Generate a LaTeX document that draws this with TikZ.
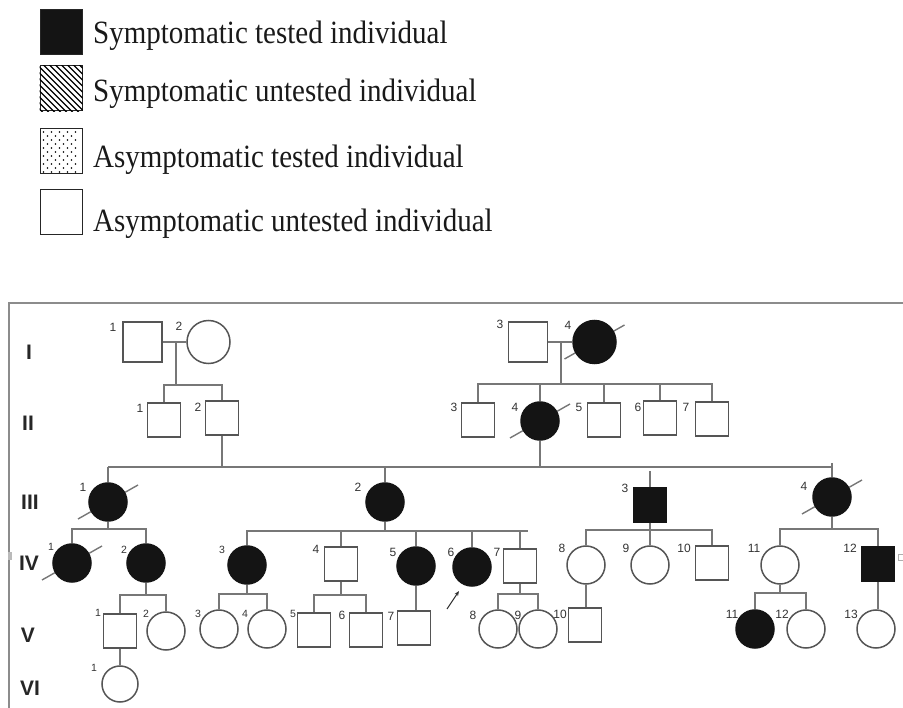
\documentclass[tikz,border=0pt]{standalone}
\usepackage{fontspec}
\setmainfont{Liberation Serif}
\setsansfont{Liberation Sans}
\usetikzlibrary{backgrounds,arrows.meta,calc}
\definecolor{lc}{HTML}{777777}
\definecolor{oc}{HTML}{555555}
\definecolor{fc}{HTML}{141414}
\definecolor{fr}{HTML}{8C8C8C}
\tikzset{
 ln/.style={draw=lc, line width=1.6pt},
 sq/.style={rectangle, draw=oc, line width=1.5pt, fill=white, minimum width=33pt, minimum height=34pt, inner sep=0pt},
 sqbig/.style={sq, minimum width=39pt, minimum height=40pt},
 ci/.style={circle, draw=oc, line width=1.5pt, fill=white, minimum size=38pt, inner sep=0pt},
 cibig/.style={ci, minimum size=43pt},
 aff/.style={fill=fc, draw=fc},
 num/.style={font=\sffamily\fontsize{12}{12}\selectfont, text=black!80, inner sep=0pt},
 nums/.style={font=\sffamily\fontsize{10.5}{10.5}\selectfont, text=black!80, inner sep=0pt},
 gen/.style={font=\sffamily\bfseries\fontsize{21}{21}\selectfont, text=black!85, inner sep=0pt},
 slash/.style={draw=lc, line width=1.4pt},
 leg/.style={font=\fontsize{29}{29}\selectfont, text=black!90, anchor=base west, inner sep=0pt},
 legbox/.style={rectangle, draw=black!85, line width=1pt, minimum width=42pt, minimum height=45pt, inner sep=0pt},
}
\newcommand{\legtxt}[1]{\scalebox{1}[1.12]{#1}}
\begin{document}
\begin{tikzpicture}[x=1pt,y=-1pt]
\useasboundingbox (0,0) rectangle (903,708);

% ---------- legend ----------
\node[legbox, fill=fc] (L1) at (61,32.5) {};
\node[legbox] (L2) at (61,88.5) {};
\node[legbox] (L3) at (61,151) {};
\node[legbox] (L4) at (61,212.5) {};
\begin{scope}
\clip (L2.south west) rectangle (L2.north east);
\foreach \i in {-66,-60,...,66}
  \draw[line width=1.1pt] ($(L2.center)+(\i-30,-30)$) -- ($(L2.center)+(\i+30,30)$);
\end{scope}
\foreach \yy in {4,12,...,44} \foreach \xx in {4,12,...,40}
  \fill ($(L3.north west)+(\xx,\yy)$) circle (0.9);
\foreach \yy in {8,16,...,40} \foreach \xx in {8,16,...,36}
  \fill ($(L3.north west)+(\xx,\yy)$) circle (0.9);
\node[leg] (T1) at (93,44) {\legtxt{Symptomatic tested individual}};
\node[leg] (T2) at (93,102) {\legtxt{Symptomatic untested individual}};
\node[leg] (T3) at (93,168) {\legtxt{Asymptomatic tested individual}};
\node[leg] (T4) at (93,232) {\legtxt{Asymptomatic untested individual}};

% ---------- frame ----------
\draw[draw=fr, line width=2pt] (903,303) -- (9,303) -- (9,708);
\fill[fr!60] (8,552) rectangle (12,560);
\draw[fr!70, line width=1pt] (898.5,555) rectangle (903,561);

% ---------- generation labels ----------
\node[gen] (gI) at (29,352) {I};
\node[gen] (gII) at (28,423) {II};
\node[gen] (gIII) at (30,502) {III};
\node[gen] (gIV) at (29,563) {IV};
\node[gen] (gV) at (28,635) {V};
\node[gen] (gVI) at (30,688) {VI};

% ---------- individuals ----------
\node[sqbig] (I1) at (142.5,342) {};
\node[cibig] (I2) at (208.5,342) {};
\node[sqbig] (I3) at (528,342) {};
\node[cibig,aff] (I4) at (594.5,342) {};

\node[sq] (II1) at (164,420) {};
\node[sq] (II2) at (222,418) {};
\node[sq] (II3) at (478,420) {};
\node[ci,aff] (II4) at (540,421) {};
\node[sq] (II5) at (604,420) {};
\node[sq] (II6) at (660,418) {};
\node[sq] (II7) at (712,419) {};

\node[ci,aff] (III1) at (108,502) {};
\node[ci,aff] (III2) at (385,502) {};
\node[sq,aff] (III3) at (650,505) {};
\node[ci,aff] (III4) at (832,497) {};

\node[ci,aff] (IV1) at (72,563) {};
\node[ci,aff] (IV2) at (146,563) {};
\node[ci,aff] (IV3) at (247,565) {};
\node[sq] (IV4) at (341,564) {};
\node[ci,aff] (IV5) at (416,566) {};
\node[ci,aff] (IV6) at (472,567) {};
\node[sq] (IV7) at (520,566) {};
\node[ci] (IV8) at (586,565) {};
\node[ci] (IV9) at (650,565) {};
\node[sq] (IV10) at (712,563) {};
\node[ci] (IV11) at (780,565) {};
\node[sq,aff] (IV12) at (878,564) {};

\node[sq] (V1) at (120,631) {};
\node[ci] (V2) at (166,631) {};
\node[ci] (V3) at (219,629) {};
\node[ci] (V4) at (267,629) {};
\node[sq] (V5) at (314,630) {};
\node[sq] (V6) at (366,630) {};
\node[sq] (V7) at (414,628) {};
\node[ci] (V8) at (498,629) {};
\node[ci] (V9) at (538,629) {};
\node[sq] (V10) at (585,625) {};
\node[ci,aff] (V11) at (755,629) {};
\node[ci] (V12) at (806,629) {};
\node[ci] (V13) at (876,629) {};

\node[ci, minimum size=36pt] (VI1) at (120,684) {};

% ---------- deceased slashes (behind) ----------
\begin{scope}[on background layer]
\foreach \n in {I4,II4,III1,IV1,III4}
  \draw[slash] ($(\n.center)+(-30,17)$) -- ($(\n.center)+(30,-17)$);
\end{scope}

% ---------- connectors ----------
% family A (I1 x I2)
\draw[ln] (I1) -- (I2);
\coordinate (mA) at (176,342);
\coordinate (bA) at (176,385);
\draw[ln] (mA) -- (bA);
\draw[ln] (II1.north) |- (bA) -| (II2.north);
% family B (I3 x I4)
\draw[ln] (I3) -- (I4);
\coordinate (mB) at (561,342);
\coordinate (bB) at (561,384);
\draw[ln] (mB) -- (bB);
\draw[ln] (II3.north) |- (bB) -| (II7.north);
\foreach \c in {II4,II5,II6} \draw[ln] (\c.north) -- (\c.north |- bB);
% generation III sibship
\coordinate (bC1) at (108,467);
\coordinate (bC2) at (832,467);
\draw[ln] (bC1) -- (bC2);
\draw[ln] (II2.south) -- (II2.south |- bC1);
\draw[ln] (II4.south) -- (II4.south |- bC1);
\draw[ln] (III1.north) -- (III1.north |- bC1);
\draw[ln] (III2.north) -- (III2.north |- bC1);
\coordinate (g3) at (650,471);
\draw[ln] (g3) -- (III3.north);
\coordinate (t4) at (832,463);
\draw[ln] (t4) -- (III4.north);
% III1 children
\coordinate (bD) at (108,529);
\draw[ln] (III1.south) -- (bD);
\draw[ln] (IV1.north) |- (bD) -| (IV2.north);
\coordinate (bE) at (146,595);
\draw[ln] (IV2.south) -- (bE);
\draw[ln] (V1.north) |- (bE) -| (V2.north);
\draw[ln] (V1.south) -- (VI1.north);
% III2 children
\coordinate (bF) at (385,531);
\coordinate (bFr) at (528,531);
\draw[ln] (III2.south) -- (bF);
\draw[ln] (IV3.north) |- (bFr);
\foreach \c in {IV4,IV5,IV6,IV7} \draw[ln] (\c.north) -- (\c.north |- bF);
\coordinate (bG) at (247,594);
\draw[ln] (IV3.south) -- (bG);
\draw[ln] (V3.north) |- (bG) -| (V4.north);
\coordinate (bH) at (341,595);
\draw[ln] (IV4.south) -- (bH);
\draw[ln] (V5.north) |- (bH) -| (V6.north);
\draw[ln] (IV5.south) -- (IV5.south |- V7.north);
\coordinate (bI) at (520,594);
\draw[ln] (IV7.south) -- (bI);
\draw[ln] (V8.north) |- (bI) -| (V9.north);
% III3 children
\coordinate (bJ) at (650,530);
\draw[ln] (III3.south) -- (bJ);
\draw[ln] (IV8.north) |- (bJ) -| (IV10.north);
\draw[ln] (IV9.north) -- (bJ);
\draw[ln] (IV8.south) -- (IV8.south |- V10.north);
% III4 children
\coordinate (bK) at (832,529);
\draw[ln] (III4.south) -- (bK);
\draw[ln] (IV11.north) |- (bK) -| (IV12.north);
\coordinate (bL) at (780,593);
\draw[ln] (IV11.south) -- (bL);
\draw[ln] (V11.north) |- (bL) -| (V12.north);
\draw[ln] (IV12.south) -- (IV12.south |- V13.north);

% proband arrow
\coordinate (pa) at (447,609);
\coordinate (pb) at (459,591);
\draw[draw=black!80, line width=1pt, -{Stealth[length=5pt,width=4pt]}] (pa) -- (pb);

% ---------- number labels ----------
\node[num] (nI1) at (113,327) {1};
\node[num] (nI2) at (179,326) {2};
\node[num] (nI3) at (500,324) {3};
\node[num] (nI4) at (568,325) {4};
\node[num] (nII1) at (140,408) {1};
\node[num] (nII2) at (198,407) {2};
\node[num] (nII3) at (454,407) {3};
\node[num] (nII4) at (515,407) {4};
\node[num] (nII5) at (579,407) {5};
\node[num] (nII6) at (638,407) {6};
\node[num] (nII7) at (686,407) {7};
\node[num] (nIII1) at (83,487) {1};
\node[num] (nIII2) at (358,487) {2};
\node[num] (nIII3) at (625,488) {3};
\node[num] (nIII4) at (804,486) {4};
\node[nums] (nIV1) at (51,547) {1};
\node[nums] (nIV2) at (124,550) {2};
\node[nums] (nIV3) at (222,550) {3};
\node[num] (nIV4) at (316,549) {4};
\node[num] (nIV5) at (393,552) {5};
\node[num] (nIV6) at (451,552) {6};
\node[num] (nIV7) at (497,552) {7};
\node[num] (nIV8) at (562,548) {8};
\node[num] (nIV9) at (626,548) {9};
\node[num] (nIV10) at (684,548) {10};
\node[num] (nIV11) at (754,548) {11};
\node[num] (nIV12) at (850,548) {12};
\node[nums] (nV1) at (98,613) {1};
\node[nums] (nV2) at (146,614) {2};
\node[nums] (nV3) at (198,614) {3};
\node[nums] (nV4) at (245,614) {4};
\node[nums] (nV5) at (293,614) {5};
\node[num] (nV6) at (342,615) {6};
\node[num] (nV7) at (391,616) {7};
\node[num] (nV8) at (473,615) {8};
\node[num] (nV9) at (518,615) {9};
\node[num] (nV10) at (560,614) {10};
\node[num] (nV11) at (732,614) {11};
\node[num] (nV12) at (782,614) {12};
\node[num] (nV13) at (851,614) {13};
\node[nums] (nVI1) at (94,668) {1};
\end{tikzpicture}
\end{document}
